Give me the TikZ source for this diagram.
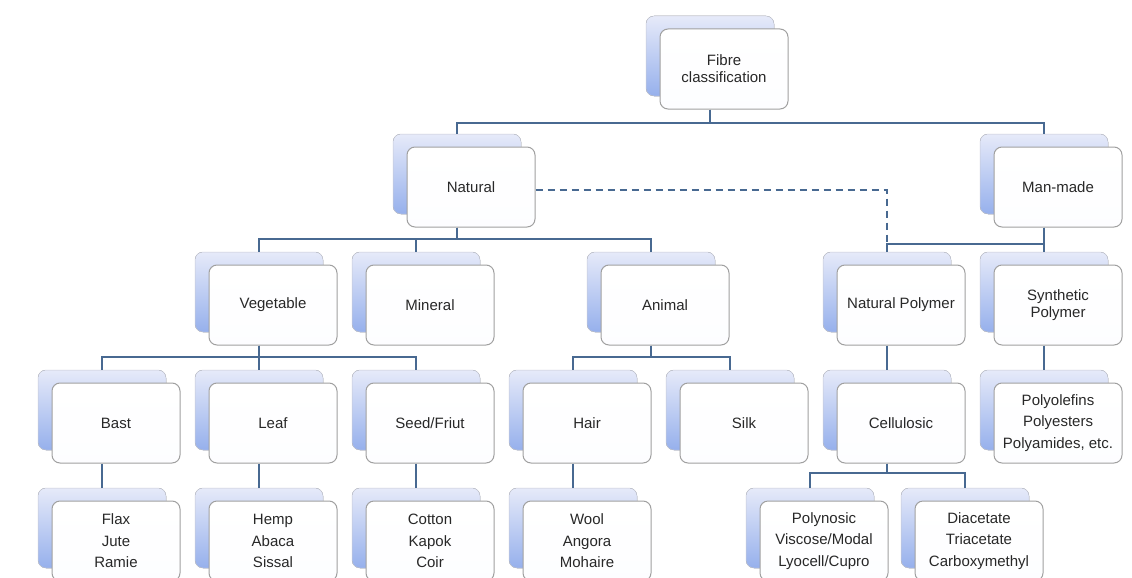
\documentclass[tikz,border=0pt]{standalone}
\usepackage{fontspec}
\setmainfont{Liberation Sans}
\usetikzlibrary{positioning, shadows}

\definecolor{linkblue}{RGB}{72,105,145}
\definecolor{backtop}{RGB}{230,234,249}
\definecolor{backbot}{RGB}{150,176,236}
\definecolor{boxline}{RGB}{160,160,160}
\definecolor{textgray}{RGB}{40,40,40}

\tikzset{
  classbox/.style={rectangle, rounded corners=8pt, draw=boxline, line width=1pt,
    top color=white, bottom color=white!92!backtop,
    minimum width=128pt, minimum height=80pt, inner sep=2pt,
    align=center, text=textgray, font=\fontsize{15}{17}\selectfont,
    copy shadow={shadow xshift=-14pt, shadow yshift=13pt, draw=backtop!70!gray,
      line width=0.5pt, top color=backtop, bottom color=backbot}},
  listbox/.style={classbox, font=\fontsize{15}{21.5}\selectfont},
  link/.style={draw=linkblue, line width=2pt},
}

\begin{document}
\begin{tikzpicture}[x=1pt, y=-1pt, node distance=118pt and 157pt, on grid]
  \useasboundingbox (0,0) rectangle (1132,578);

  % third row
  \node[classbox] (leaf) at (273,423) {Leaf};
  \node[classbox] (bast) [left=of leaf] {Bast};
  \node[classbox] (seed) [right=of leaf] {Seed/Friut};
  \node[classbox] (hair) [right=of seed] {Hair};
  \node[classbox] (silk) [right=of hair] {Silk};
  \node[classbox] (cellulosic) [right=of silk] {Cellulosic};
  \node[listbox] (polyolefins) [right=of cellulosic] {Polyolefins\\Polyesters\\Polyamides, etc.};

  % upper rows
  \node[classbox] (vegetable) [above=of leaf] {Vegetable};
  \node[classbox] (mineral) [above=of seed] {Mineral};
  \node[classbox] (animal) [above=of hair, xshift=78pt] {Animal};
  \node[classbox] (natpolymer) [above=of cellulosic] {Natural Polymer};
  \node[classbox] (synpolymer) [above=of polyolefins] {Synthetic\\Polymer};
  \node[classbox] (natural) [above=of mineral, xshift=41pt] {Natural};
  \node[classbox] (manmade) [above=of synpolymer] {Man-made};
  \node[classbox] (fibre) [above=of natural, xshift=253pt] {Fibre\\classification};

  % bottom row
  \node[listbox] (flax) [below=of bast] {Flax\\Jute\\Ramie};
  \node[listbox] (hemp) [below=of leaf] {Hemp\\Abaca\\Sissal};
  \node[listbox] (cotton) [below=of seed] {Cotton\\Kapok\\Coir};
  \node[listbox] (wool) [below=of hair] {Wool\\Angora\\Mohaire};
  \node[listbox] (polynosic) [below=of cellulosic, xshift=-77pt] {Polynosic\\Viscose/Modal\\Lyocell/Cupro};
  \node[listbox] (diacetate) [below=of cellulosic, xshift=78pt] {Diacetate\\Triacetate\\Carboxymethyl};

  % connectors
  \foreach \p/\c/\d in {fibre/natural/13, fibre/manmade/13,
      natural/vegetable/11, natural/mineral/11, natural/animal/11,
      manmade/natpolymer/16, manmade/synpolymer/16,
      vegetable/bast/11, vegetable/leaf/11, vegetable/seed/11,
      animal/hair/11, animal/silk/11,
      cellulosic/polynosic/9, cellulosic/diacetate/9}
    \draw[link] ([xshift=-14pt]\p.south) -- ++(0,\d) -| ([xshift=-14pt,yshift=13pt]\c.north);
  \foreach \p/\c in {natpolymer/cellulosic, synpolymer/polyolefins,
      bast/flax, leaf/hemp, seed/cotton, hair/wool}
    \draw[link] ([xshift=-14pt]\p.south) -- ([xshift=-14pt,yshift=13pt]\c.north);
  \draw[link, dash pattern=on 7pt off 5pt] ([yshift=-3pt]natural.east) -| ([xshift=-14pt,yshift=23pt]natpolymer.north);
\end{tikzpicture}
\end{document}
